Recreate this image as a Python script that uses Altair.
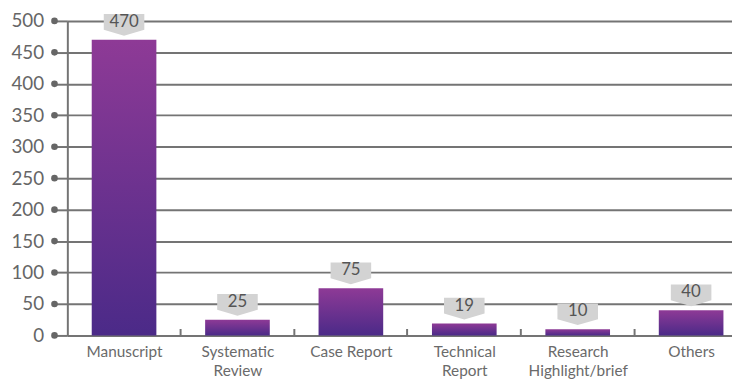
import altair as alt
import pandas as pd

categories = ["Manuscript", "Systematic\nReview", "Case Report", "Technical\nReport",
              "Research\nHighlight/brief", "Others"]
counts = [470, 25, 75, 19, 10, 40]
y_ticks = [0, 50, 100, 150, 200, 250, 300, 350, 400, 450, 500]

df = pd.DataFrame({"category": categories, "count": counts})
tick_df = pd.DataFrame({"count": y_ticks})

FONT = "Lato"
GRAY = "#747474"
HALF_STEP = 680 / 6 / 2

x_axis = alt.Axis(
    domain=False, ticks=True, tickSize=7, tickWidth=2, tickOffset=HALF_STEP,
    labelOffset=-HALF_STEP,
    tickColor=GRAY, offset=-7, labelAngle=0, labelFont=FONT, labelFontSize=15.5,
    labelColor="#6a6a6a", labelPadding=9, labelLineHeight=20,
    labelExpr="split(datum.label, '\\n')", grid=False, labelOverlap=False,
)
y_axis = alt.Axis(
    values=y_ticks, domain=True, domainColor=GRAY, domainWidth=2,
    ticks=True, tickSize=14, tickWidth=2, tickColor=GRAY,
    labelFont=FONT, labelFontSize=19, labelColor="#666666", labelPadding=10,
    grid=True, gridColor=GRAY, gridWidth=2, labelOverlap=False,
)
x_scale = alt.Scale(paddingInner=0.43, paddingOuter=0.215)
y_scale = alt.Scale(domain=[0, 500], nice=False)

x_enc = alt.X("category:N", sort=categories, title=None, scale=x_scale, axis=x_axis)
y_enc = alt.Y("count:Q", title=None, scale=y_scale, axis=y_axis)

gradient = {
    "gradient": "linear", "x1": 0, "y1": 0, "x2": 0, "y2": 1,
    "stops": [{"offset": 0, "color": "#8e3a96"}, {"offset": 1, "color": "#4b2a88"}],
}

bars = alt.Chart(df).mark_bar(color=gradient).encode(x=x_enc, y=y_enc)

callout_path = "M -1 -1.27 L 1 -1.27 L 1 -0.49 L 0 -0.2 L -1 -0.49 Z"
callouts = alt.Chart(df).mark_point(
    shape=callout_path, filled=True, fill="#d3d3d3", stroke=None, opacity=1, size=1681
).encode(x=x_enc, y=y_enc)

labels = alt.Chart(df).mark_text(
    font=FONT, fontSize=17, color="#555555", dy=-18, baseline="middle"
).encode(x=x_enc, y=y_enc, text="count:Q")

dots = alt.Chart(tick_df).mark_circle(color="#666666", size=45, opacity=1).encode(
    x=alt.value(-13), y=y_enc
)

chart = alt.layer(bars, callouts, labels, dots).properties(
    width=688, height=318,
    autosize=alt.AutoSizeParams(type="none"),
    padding={"left": 60, "top": 11, "right": -16, "bottom": 43},
).configure_view(stroke=None)

chart.save("out.html", embed_options={"renderer": "svg", "actions": False})
